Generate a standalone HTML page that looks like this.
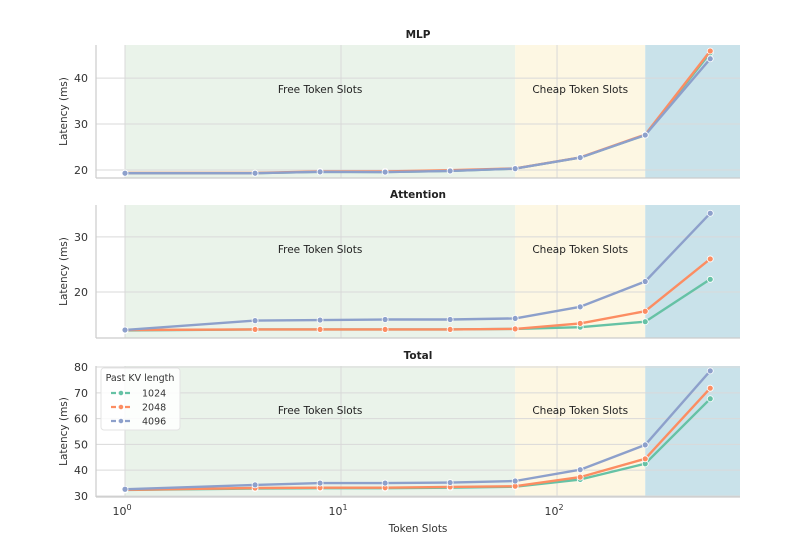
<!DOCTYPE html>
<html><head><meta charset="utf-8"><style>
html,body{margin:0;padding:0;background:#fff;}
svg{display:block;font-family:"DejaVu Sans","Liberation Sans",sans-serif;}
</style></head><body>
<svg id="chart" width="795" height="559" viewBox="0 0 795 559" xmlns="http://www.w3.org/2000/svg"></svg>
<script>
const tokenSlots = [1, 4, 8, 16, 32, 64, 128, 256, 512];
const seriesNames = ["1024", "2048", "4096"];
const mlp1024 = [19.3, 19.3, 19.6, 19.55, 19.8, 20.3, 22.7, 27.6, 45.5];
const mlp2048 = [19.35, 19.35, 19.7, 19.7, 19.95, 20.35, 22.75, 27.7, 45.9];
const mlp4096 = [19.3, 19.3, 19.6, 19.55, 19.8, 20.3, 22.7, 27.6, 44.2];
const att1024 = [13.0, 13.2, 13.2, 13.2, 13.2, 13.3, 13.6, 14.6, 22.3];
const att2048 = [13.1, 13.2, 13.2, 13.2, 13.2, 13.3, 14.3, 16.5, 26.0];
const att4096 = [13.1, 14.8, 14.9, 15.0, 15.0, 15.2, 17.3, 21.9, 34.3];
const tot1024 = [32.3, 32.9, 33.0, 33.0, 33.2, 33.6, 36.4, 42.5, 67.7];
const tot2048 = [32.4, 33.1, 33.2, 33.2, 33.5, 33.8, 37.3, 44.4, 71.8];
const tot4096 = [32.6, 34.3, 35.0, 35.0, 35.2, 35.8, 40.2, 49.8, 78.5];
const mlpTicks = [20, 30, 40];
const attTicks = [20, 30];
const totTicks = [30, 40, 50, 60, 70, 80];
const xTickExps = [0, 1, 2];

const colors = ["#66c2a5", "#fc8d62", "#8da0cb"];
const NS = "http://www.w3.org/2000/svg";
const svg = document.getElementById("chart");
const X0 = 96, X1 = 740, LMIN = -0.1343, LMAX = 2.847;
function xs(v){ return X0 + (Math.log10(v) - LMIN) / (LMAX - LMIN) * (X1 - X0); }
function mk(tag, attrs, parent){
  const e = document.createElementNS(NS, tag);
  for (const k in attrs) e.setAttribute(k, attrs[k]);
  (parent || svg).appendChild(e);
  return e;
}
const panels = [
  {title:"MLP", top:45, bot:178, ymin:18.26, ymax:47.2, ticks:mlpTicks, data:[mlp1024, mlp2048, mlp4096], key:"mlp"},
  {title:"Attention", top:205, bot:338, ymin:11.64, ymax:35.8, ticks:attTicks, data:[att1024, att2048, att4096], key:"attention"},
  {title:"Total", top:366, bot:497, ymin:29.6, ymax:80.4, ticks:totTicks, data:[tot1024, tot2048, tot4096], key:"total"}
];
panels.forEach(p => {
  const g = mk("g", {});
  
  
  const ys = v => p.bot - (v - p.ymin) / (p.ymax - p.ymin) * (p.bot - p.top);
  const h = p.bot - p.top;
  // shaded regions
  const r1 = mk("rect", {x:xs(1), y:p.top, width:xs(64)-xs(1), height:h, fill:"#eaf3ea"}, g);
  
  
  const r2 = mk("rect", {x:xs(64), y:p.top, width:xs(256)-xs(64), height:h, fill:"#fdf7e3"}, g);
  
  
  const r3 = mk("rect", {x:xs(256), y:p.top, width:X1-xs(256), height:h, fill:"#c9e2ea"}, g);
  
  
  // grid
  p.ticks.forEach(t => {
    const y = ys(t);
    const gl = mk("line", {x1:X0, x2:X1, y1:y, y2:y, stroke:"#d9d9d9", "stroke-width":1}, g);
    
    
    const tl = mk("text", {x:X0-8, y:y+4, "text-anchor":"end", "font-size":11, fill:"#333"}, g);
    tl.textContent = t;
    
    
  });
  xTickExps.forEach(e => {
    const x = xs(Math.pow(10, e));
    const gl = mk("line", {x1:x, x2:x, y1:p.top, y2:p.bot, stroke:"#d9d9d9", "stroke-width":1}, g);
    
    
  });
  // spines
  const sp1 = mk("line", {x1:X0, x2:X0, y1:p.top, y2:p.bot, stroke:"#ccc", "stroke-width":1.2}, g);
  
  
  const sp2 = mk("line", {x1:X0, x2:X1, y1:p.bot, y2:p.bot, stroke:"#ccc", "stroke-width":1.2}, g);
  
  
  // region labels
  const fl = mk("text", {x:(xs(1)+xs(64))/2, y:p.top+48, "text-anchor":"middle", "font-size":10.5, fill:"#222"}, g);
  fl.textContent = "Free Token Slots";
  
  
  const cl = mk("text", {x:(xs(64)+xs(256))/2, y:p.top+48, "text-anchor":"middle", "font-size":10.5, fill:"#222"}, g);
  cl.textContent = "Cheap Token Slots";
  
  
  // title
  const tt = mk("text", {x:(X0+X1)/2, y:p.top-7, "text-anchor":"middle", "font-size":10.5, "font-weight":"bold", fill:"#222"}, g);
  tt.textContent = p.title;
  
  
  // y label
  const cy = (p.top + p.bot) / 2;
  const yl = mk("text", {x:0, y:0, transform:`translate(67,${cy}) rotate(-90)`, "text-anchor":"middle", "font-size":10.5, fill:"#333"}, g);
  yl.textContent = "Latency (ms)";
  
  
  // series
  p.data.forEach((arr, si) => {
    const pts = arr.map((v, i) => xs(tokenSlots[i]).toFixed(1) + "," + ys(v).toFixed(1)).join(" ");
    const line = mk("polyline", {points:pts, fill:"none", stroke:colors[si], "stroke-width":2.4, "stroke-linejoin":"round"}, g);
    
    
    arr.forEach((v, i) => {
      const c = mk("circle", {cx:xs(tokenSlots[i]), cy:ys(v), r:3, fill:colors[si], stroke:"#fff", "stroke-width":0.8}, g);
      
      
    });
  });
});
// x tick labels (bottom panel)
xTickExps.forEach(e => {
  const x = xs(Math.pow(10, e));
  const t = mk("text", {x:x-3, y:515, "text-anchor":"middle", "font-size":11, fill:"#333"});
  t.textContent = "10";
  const sup = mk("tspan", {dy:-5, "font-size":8}, t);
  sup.textContent = e;
  
  
});
const xt = mk("text", {x:(X0+X1)/2, y:532, "text-anchor":"middle", "font-size":10.5, fill:"#333"});
xt.textContent = "Token Slots";


// legend
const lg = mk("g", {});


mk("rect", {x:101, y:368, width:79, height:62, rx:3, fill:"#fff", "fill-opacity":0.85, stroke:"#e3e3e3"}, lg);
const lt = mk("text", {x:140, y:381, "text-anchor":"middle", "font-size":9.5, fill:"#333"}, lg);
lt.textContent = "Past KV length";


seriesNames.forEach((n, i) => {
  const y = 393 + i * 14;
  const e = mk("g", {}, lg);
  
  
  mk("line", {x1:111, x2:131, y1:y, y2:y, stroke:colors[i], "stroke-width":2.2, "stroke-dasharray":"5,2"}, e);
  mk("circle", {cx:121, cy:y, r:2.6, fill:colors[i], stroke:"#fff", "stroke-width":0.7}, e);
  const t = mk("text", {x:142, y:y+3.5, "font-size":9.5, fill:"#333"}, e);
  t.textContent = n;
});
</script>
</body></html>
